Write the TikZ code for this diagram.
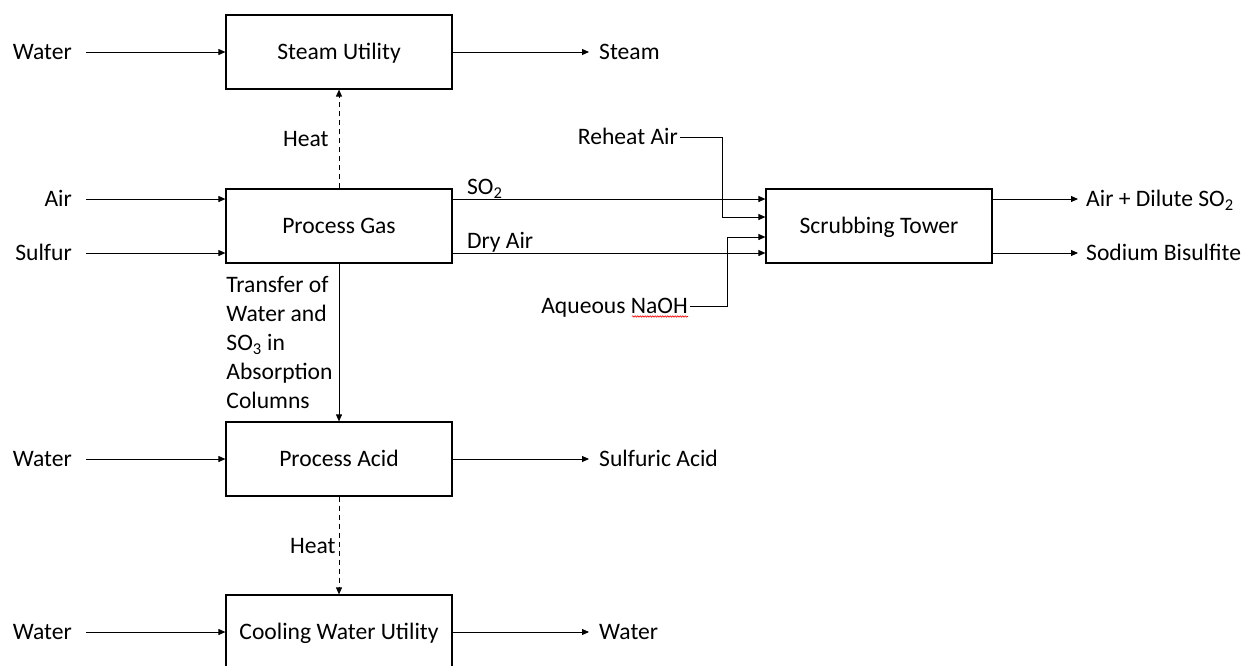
\documentclass[tikz,border=0pt]{standalone}
\usepackage{fontspec}
\setmainfont{Carlito}
\usetikzlibrary{arrows.meta,decorations.pathmorphing}
\begin{document}
\begin{tikzpicture}[x=1pt,y=-1pt,
  every node/.style={font=\fontsize{23.6}{29}\selectfont},
  txt/.style={text height=17pt,text depth=2pt},
  unit/.style={txt,draw,line width=1.2pt,minimum width=226pt,minimum height=74pt,inner sep=0pt},
  flow/.style={line width=0.9pt,-{Triangle[length=7pt,width=6pt]}},
  heat/.style={flow,dash pattern=on 5pt off 4pt},
  feed/.style={txt,anchor=east,inner xsep=14pt,inner ysep=0pt},
  product/.style={txt,anchor=west,inner xsep=10pt,inner ysep=0pt},
  tag/.style={txt,anchor=south west,inner sep=2pt,xshift=12pt}]
  \clip (0,0) rectangle (1246,665);
  \node [unit] (steam) at (339,52) {Steam Utility};
  \node [unit] (gas) at (339,226) {Process Gas};
  \node [unit] (scrub) at (879,226) {Scrubbing Tower};
  \node [unit] (acid) at (339,459) {Process Acid};
  \node [unit] (cool) at (339,632) {Cooling Water Utility};
  \node [feed] (water1) at (86,52) {Water};
  \node [feed] (air) at (86,199) {Air};
  \node [feed] (sulfur) at (86,253) {Sulfur};
  \node [feed] (water2) at (86,459) {Water};
  \node [feed] (water3) at (86,632) {Water};
  \node [product] (steamout) at (589,52) {Steam};
  \node [product] (acidout) at (589,459) {Sulfuric Acid};
  \node [product] (waterout) at (589,632) {Water};
  \node [product,inner xsep=8pt] (dilute) at (1078,199) {Air + Dilute SO\textsubscript{2}};
  \node [product,inner xsep=8pt] (bisulfite) at (1078,253) {Sodium Bisulfite};
  \node [txt,anchor=east,inner sep=2pt] (reheat) at (680,137) {Reheat Air};
  \node [txt,anchor=east,inner sep=2pt] (naoh) at (690,306) {Aqueous NaOH};
  \coordinate (so2) at ([yshift=27pt]gas.east);
  \coordinate (dryair) at ([yshift=-27pt]gas.east);
  \coordinate (airout) at ([yshift=27pt]scrub.east);
  \coordinate (bisout) at ([yshift=-27pt]scrub.east);
  \draw [flow] (water1) -- (steam);
  \draw [flow] (steam) -- (steamout);
  \draw [flow] (air.east) -- (air.east -| gas.west);
  \draw [flow] (sulfur.east) -- (sulfur.east -| gas.west);
  \draw [heat] (gas) -- node [txt,left,inner xsep=10pt] {Heat} (steam);
  \draw [flow] (so2) -- node [tag,at start] {SO\textsubscript{2}} (so2 -| scrub.west);
  \draw [flow] (dryair) -- node [tag,at start] {Dry Air} (dryair -| scrub.west);
  \draw [flow] (reheat.east) -| ([xshift=-43pt,yshift=9pt]scrub.west) -- ([yshift=9pt]scrub.west);
  \draw [flow] (naoh.east) -| ([xshift=-38pt,yshift=-11pt]scrub.west) -- ([yshift=-11pt]scrub.west);
  \draw [red,line width=0.6pt,decorate,decoration={snake,amplitude=0.7pt,segment length=2.5pt}] ([xshift=-58pt,yshift=-3pt]naoh.base east) -- ([xshift=-2pt,yshift=-3pt]naoh.base east);
  \draw [flow] (airout) -- (dilute);
  \draw [flow] (bisout) -- (bisulfite);
  \draw [flow] (gas) -- node [left,align=left,inner xsep=6pt] {Transfer of\\Water and\\SO\textsubscript{3} in\\Absorption\\Columns} (acid);
  \draw [flow] (water2) -- (acid);
  \draw [flow] (acid) -- (acidout);
  \draw [heat] (acid) -- node [txt,left,inner xsep=3pt] {Heat} (cool);
  \draw [flow] (water3) -- (cool);
  \draw [flow] (cool) -- (waterout);
\end{tikzpicture}
\end{document}
